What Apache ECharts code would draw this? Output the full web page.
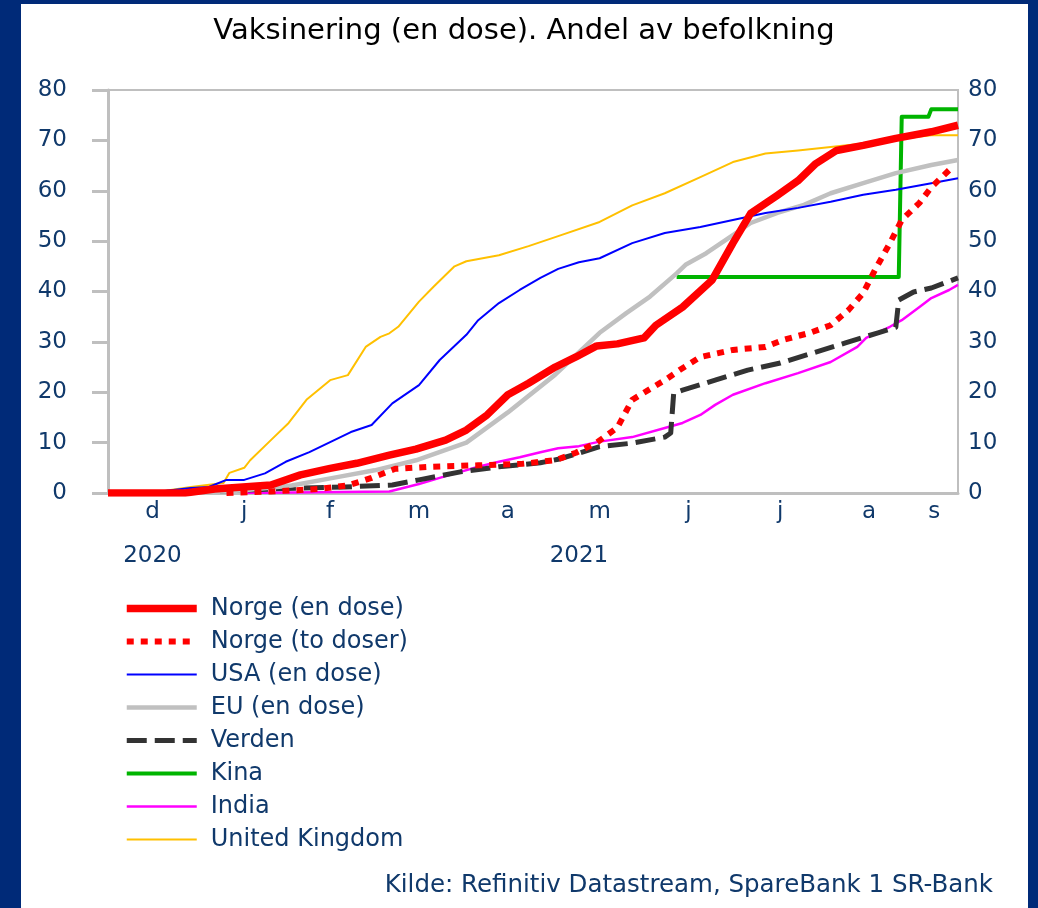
<!DOCTYPE html>
<html>
<head>
<meta charset="utf-8">
<title>Vaksinering</title>
<script src="https://cdn.jsdelivr.net/npm/echarts@6/dist/echarts.min.js"></script>
<style>
html, body { margin: 0; padding: 0; background: #fff; }
#frame { position: absolute; left: 0; top: 0; width: 1038px; height: 908px; background: #002a78; }
#chart { position: absolute; left: 21px; top: 4px; width: 1007px; height: 904px; background: #fff; }
</style>
</head>
<body>
<div id="frame"></div>
<div id="chart"></div>
<script>
// andel av befolkning (%): [dato, verdi]
var norgeEnDose = [
  ['2020-12-01', 0], ['2020-12-27', 0], ['2021-01-06', 0.8], ['2021-01-25', 1.6], ['2021-02-04', 3.6],
  ['2021-02-14', 4.9], ['2021-02-23', 5.9], ['2021-03-06', 7.5], ['2021-03-15', 8.7], ['2021-03-25', 10.5],
  ['2021-04-01', 12.5], ['2021-04-08', 15.5], ['2021-04-15', 19.5], ['2021-04-22', 21.8], ['2021-05-01', 25],
  ['2021-05-08', 27], ['2021-05-15', 29.2], ['2021-05-22', 29.6], ['2021-05-31', 30.8], ['2021-06-04', 33.3],
  ['2021-06-13', 36.9], ['2021-06-23', 42.3], ['2021-06-30', 49.6], ['2021-07-06', 55.5], ['2021-07-15', 59.1],
  ['2021-07-22', 62], ['2021-07-28', 65.4], ['2021-08-04', 68], ['2021-08-13', 69], ['2021-08-24', 70.4],
  ['2021-09-05', 71.7], ['2021-09-14', 73]
];
var norgeToDoser = [
  ['2021-01-10', 0], ['2021-01-25', 0.3], ['2021-02-10', 0.8], ['2021-02-20', 1.5], ['2021-02-28', 3],
  ['2021-03-08', 4.8], ['2021-03-20', 5.2], ['2021-04-05', 5.5], ['2021-04-20', 5.8], ['2021-05-01', 6.5],
  ['2021-05-08', 8], ['2021-05-15', 10], ['2021-05-22', 13], ['2021-05-27', 18.5], ['2021-06-07', 22.4],
  ['2021-06-12', 24.4], ['2021-06-19', 27], ['2021-06-30', 28.4], ['2021-07-11', 29], ['2021-07-17', 30.4],
  ['2021-07-26', 31.8], ['2021-08-02', 33.3], ['2021-08-08', 36.3], ['2021-08-13', 39.7], ['2021-08-17', 44.3],
  ['2021-08-22', 49.6], ['2021-08-26', 54.2], ['2021-09-01', 57.6], ['2021-09-05', 60.7], ['2021-09-11', 64.1]
];
var usa = [
  ['2020-12-01', 0], ['2020-12-14', 0], ['2020-12-29', 1], ['2021-01-04', 1.2], ['2021-01-10', 2.6],
  ['2021-01-16', 2.6], ['2021-01-23', 3.9], ['2021-01-30', 6.2], ['2021-02-07', 8.1], ['2021-02-14', 10.1],
  ['2021-02-21', 12.1], ['2021-02-28', 13.5], ['2021-03-07', 17.8], ['2021-03-16', 21.4], ['2021-03-23', 26.4],
  ['2021-04-01', 31.4], ['2021-04-05', 34.3], ['2021-04-12', 37.7], ['2021-04-19', 40.3], ['2021-04-26', 42.7],
  ['2021-05-02', 44.5], ['2021-05-09', 45.8], ['2021-05-16', 46.6], ['2021-05-27', 49.6], ['2021-06-07', 51.6],
  ['2021-06-19', 52.8], ['2021-06-30', 54.2], ['2021-07-11', 55.6], ['2021-07-22', 56.6], ['2021-08-02', 57.8],
  ['2021-08-13', 59.2], ['2021-08-24', 60.2], ['2021-09-05', 61.5], ['2021-09-14', 62.5]
];
var eu = [
  ['2020-12-01', 0], ['2020-12-27', 0], ['2021-01-15', 0.5], ['2021-02-01', 1.5], ['2021-02-15', 3],
  ['2021-03-01', 4.5], ['2021-03-15', 6.5], ['2021-04-01', 10], ['2021-04-15', 16], ['2021-05-01', 23.5],
  ['2021-05-16', 31.8], ['2021-05-25', 35.7], ['2021-06-02', 39], ['2021-06-11', 43.6], ['2021-06-14', 45.3],
  ['2021-06-21', 47.6], ['2021-06-30', 51.2], ['2021-07-06', 53.6], ['2021-07-15', 55.6], ['2021-07-24', 57.2],
  ['2021-08-02', 59.5], ['2021-08-13', 61.5], ['2021-08-24', 63.5], ['2021-09-05', 65.1], ['2021-09-14', 66.1]
];
var verden = [
  ['2020-12-01', 0], ['2020-12-20', 0], ['2021-02-04', 1], ['2021-02-19', 1.2], ['2021-03-07', 1.6],
  ['2021-03-16', 2.6], ['2021-03-30', 4.2], ['2021-04-12', 5.2], ['2021-04-26', 6], ['2021-05-02', 6.7],
  ['2021-05-09', 7.9], ['2021-05-16', 9.2], ['2021-05-27', 9.9], ['2021-06-07', 11.1], ['2021-06-09', 11.9],
  ['2021-06-10', 19.8], ['2021-06-13', 20.4], ['2021-06-24', 22.4], ['2021-07-05', 24.4], ['2021-07-16', 25.8],
  ['2021-07-27', 27.8], ['2021-08-07', 29.8], ['2021-08-18', 31.8], ['2021-08-24', 32.9], ['2021-08-25', 38.3],
  ['2021-08-30', 39.9], ['2021-09-05', 40.7], ['2021-09-14', 42.7]
];
var kina = [
  ['2021-06-11', 42.9], ['2021-08-25', 42.9], ['2021-08-26', 74.7], ['2021-09-04', 74.7],
  ['2021-09-05', 76.2], ['2021-09-14', 76.2]
];
var india = [
  ['2021-01-16', 0], ['2021-03-06', 0.3], ['2021-03-16', 1.8], ['2021-03-23', 3], ['2021-03-30', 4.2],
  ['2021-04-05', 5.2], ['2021-04-12', 6.2], ['2021-04-19', 7.1], ['2021-04-26', 8.1], ['2021-05-02', 8.9],
  ['2021-05-09', 9.3], ['2021-05-16', 10.2], ['2021-05-27', 11.1], ['2021-06-07', 12.9], ['2021-06-13', 13.9],
  ['2021-06-19', 15.5], ['2021-06-24', 17.5], ['2021-06-30', 19.5], ['2021-07-11', 21.8], ['2021-07-22', 23.8],
  ['2021-08-02', 26], ['2021-08-11', 29], ['2021-08-14', 30.8], ['2021-08-22', 33], ['2021-08-26', 34.3],
  ['2021-09-01', 36.9], ['2021-09-05', 38.7], ['2021-09-11', 40.3], ['2021-09-14', 41.3]
];
var uk = [
  ['2020-12-01', 0], ['2020-12-20', 0], ['2020-12-21', 0.5], ['2020-12-29', 1.2], ['2021-01-09', 2],
  ['2021-01-11', 4], ['2021-01-16', 5], ['2021-01-18', 6.5], ['2021-01-25', 10.5], ['2021-01-31', 13.9],
  ['2021-02-06', 18.5], ['2021-02-14', 22.4], ['2021-02-20', 23.4], ['2021-02-26', 29], ['2021-03-03', 31],
  ['2021-03-06', 31.7], ['2021-03-09', 33], ['2021-03-16', 38], ['2021-03-21', 41], ['2021-03-28', 45],
  ['2021-04-01', 46], ['2021-04-12', 47.2], ['2021-04-22', 49], ['2021-05-02', 51], ['2021-05-16', 53.8],
  ['2021-05-27', 57.1], ['2021-06-07', 59.5], ['2021-06-19', 62.7], ['2021-06-30', 65.7], ['2021-07-11', 67.4],
  ['2021-07-22', 68], ['2021-08-02', 68.7], ['2021-08-13', 69.4], ['2021-08-24', 70.2], ['2021-09-05', 71],
  ['2021-09-14', 71]
];

// akse: daglige datoer, månedsbokstaver midt i hver måned, år midt i hvert år
var firstDay = '2020-12-01', lastDay = '2021-09-14';
var monthLetters = ['d', 'j', 'f', 'm', 'a', 'm', 'j', 'j', 'a', 's'];
var monthLabelDays = ['2020-12-16', '2021-01-16', '2021-02-14', '2021-03-16', '2021-04-15',
  '2021-05-16', '2021-06-15', '2021-07-16', '2021-08-15', '2021-09-06'];
var yearLabels = ['2020', '2021'];
var yearLabelDays = ['2020-12-16', '2021-05-09'];
var yTicks = { min: 0, max: 80, interval: 10 };

var days = [];
for (var t = Date.parse(firstDay); t <= Date.parse(lastDay); t += 86400000) {
  days.push(new Date(t).toISOString().slice(0, 10));
}

var navy = '#10396b', axisGray = '#bfbfbf', font = 'DejaVu Sans';

function line(name, data, color, width, type) {
  return {
    name: name, type: 'line', data: data, symbol: 'none', animation: false,
    lineStyle: { color: color, width: width, type: type || 'solid', cap: 'butt', join: 'round' },
    itemStyle: { color: color }
  };
}

var chart = echarts.init(document.getElementById('chart'));
chart.setOption({
  animation: false,
  textStyle: { fontFamily: font },
  title: {
    text: 'Vaksinering (en dose). Andel av befolkning',
    left: 498, top: 8, textAlign: 'center',
    textStyle: { fontFamily: font, fontSize: 29, fontWeight: 'normal', color: '#000' }
  },
  grid: { left: 87, right: 70, top: 86, bottom: 415, show: true, borderColor: axisGray, borderWidth: 2 },
  legend: {
    orient: 'vertical', left: 102, top: 588, padding: 0,
    itemWidth: 70, itemHeight: 8, itemGap: 0,
    data: ['Norge (en dose)', 'Norge (to doser)', 'USA (en dose)', 'EU (en dose)', 'Verden', 'Kina', 'India', 'United Kingdom'],
    itemStyle: { opacity: 0 },
    lineStyle: { width: 'inherit', type: 'inherit', cap: 'butt' },
    textStyle: { fontFamily: font, fontSize: 24, color: navy, lineHeight: 33, padding: [0, 0, 0, 9] }
  },
  xAxis: [{
    type: 'category', data: days, boundaryGap: false,
    axisLine: { lineStyle: { color: axisGray, width: 3 } },
    axisTick: { show: false },
    axisLabel: {
      interval: function (i, v) { return monthLabelDays.indexOf(v) >= 0; },
      formatter: function (v) { return monthLetters[monthLabelDays.indexOf(v)]; },
      color: navy, fontSize: 23, fontFamily: font, margin: 8
    }
  }, {
    type: 'category', data: days, boundaryGap: false, position: 'bottom', offset: 44,
    axisLine: { show: false }, axisTick: { show: false },
    axisLabel: {
      interval: function (i, v) { return yearLabelDays.indexOf(v) >= 0; },
      formatter: function (v) { return yearLabels[yearLabelDays.indexOf(v)]; },
      color: navy, fontSize: 23, fontFamily: font, margin: 8
    }
  }],
  yAxis: [{
    type: 'value', min: yTicks.min, max: yTicks.max, interval: yTicks.interval,
    axisLine: { show: true, lineStyle: { color: axisGray, width: 3 } },
    axisTick: { show: true, length: 16, lineStyle: { color: axisGray, width: 3 } },
    splitLine: { show: false },
    axisLabel: { color: navy, fontSize: 23, fontFamily: font, margin: 41 }
  }, {
    type: 'value', position: 'right', min: yTicks.min, max: yTicks.max, interval: yTicks.interval,
    axisLine: { show: false }, axisTick: { show: false }, splitLine: { show: false },
    axisLabel: { color: navy, fontSize: 23, fontFamily: font, margin: 10 }
  }],
  graphic: [{
    type: 'text', right: 35, bottom: 10,
    style: { text: 'Kilde: Refinitiv Datastream, SpareBank 1 SR-Bank', font: '24.5px "DejaVu Sans"', fill: navy }
  }],
  // tegnes nedenfra og opp: rød Norge-linje øverst
  series: [
    line('United Kingdom', uk, '#ffc000', 2),
    line('India', india, '#ff00ff', 2.5),
    line('Kina', kina, '#00b400', 4),
    line('Verden', verden, '#333333', 5, [20, 8]),
    line('EU (en dose)', eu, '#c0c0c0', 4.5),
    line('USA (en dose)', usa, '#0000ff', 2),
    line('Norge (to doser)', norgeToDoser, '#ff0000', 6, [7, 7]),
    line('Norge (en dose)', norgeEnDose, '#ff0000', 7.5)
  ]
});
</script>
</body>
</html>
